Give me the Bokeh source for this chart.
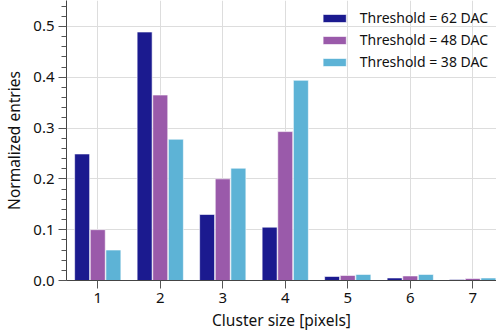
from bokeh.plotting import figure
from bokeh.models import ColumnDataSource, Range1d, FixedTicker, Legend, LegendItem, CustomJSTickFormatter
from bokeh.transform import dodge
from bokeh.embed import file_html
from bokeh.resources import INLINE

cluster_size = [1, 2, 3, 4, 5, 6, 7]
thr62 = [0.249, 0.489, 0.130, 0.105, 0.008, 0.005, 0.002]
thr48 = [0.100, 0.365, 0.200, 0.293, 0.010, 0.009, 0.004]
thr38 = [0.060, 0.278, 0.221, 0.394, 0.012, 0.012, 0.005]
labels = ["Threshold = 62 DAC", "Threshold = 48 DAC", "Threshold = 38 DAC"]
colors = ["#1b1a8f", "#9a5aaa", "#5db3d6"]

src = ColumnDataSource(dict(x=cluster_size, a=thr62, b=thr48, c=thr38))

FONT = "Noto Sans"
p = figure(width=496, height=335, output_backend="svg", toolbar_location=None,
           x_range=Range1d(0.5, 7.38), y_range=Range1d(0, 0.551),
           min_border_left=65, min_border_bottom=55, min_border_top=0, min_border_right=0)
p.outline_line_color = None

renderers = []
for col, off, color in zip(["a", "b", "c"], [-0.25, 0.0, 0.25], colors):
    r = p.vbar(x=dodge("x", off, range=p.x_range), top=col, width=0.24, source=src,
               fill_color=color, fill_alpha=1.0, line_color="white", line_width=1, line_alpha=0.6)
    renderers.append(r)

legend = Legend(items=[LegendItem(label=l, renderers=[r]) for l, r in zip(labels, renderers)],
                location="top_right", border_line_alpha=0, background_fill_alpha=0,
                label_text_font=FONT, label_text_font_size="14px", label_text_color="#111111",
                glyph_width=29, glyph_height=10, label_standoff=11, spacing=3,
                padding=3, margin=5, label_height=14)
p.add_layout(legend)

p.xaxis.ticker = FixedTicker(ticks=cluster_size)
p.yaxis.ticker = FixedTicker(ticks=[0, 0.1, 0.2, 0.3, 0.4, 0.5],
                             minor_ticks=[i * 0.02 for i in range(28)])
p.yaxis.formatter = CustomJSTickFormatter(code="return tick.toFixed(1);")

for ax in [p.xaxis[0], p.yaxis[0]]:
    ax.axis_line_color = "#444444"
    ax.major_tick_line_color = "#555555"
    ax.minor_tick_line_color = "#555555"
    ax.major_tick_out = 8
    ax.major_tick_in = 0
    ax.minor_tick_out = 5
    ax.minor_tick_in = 0
    ax.major_label_text_font = FONT
    ax.major_label_text_font_size = "15px"
    ax.major_label_text_color = "#111111"
    ax.major_label_standoff = 4
    ax.axis_label_text_font = FONT
    ax.axis_label_text_font_size = "15.5px"
    ax.axis_label_text_font_style = "normal"
    ax.axis_label_text_color = "#111111"
p.xaxis.minor_tick_line_color = None
p.xaxis.axis_label = "Cluster size [pixels]"
p.yaxis.axis_label = "Normalized entries"
p.xaxis.axis_label_standoff = 3
p.yaxis.axis_label_standoff = 5

p.xgrid.grid_line_color = "#dddddd"
p.ygrid.grid_line_color = "#dddddd"

open("out.html", "w").write(file_html(p, INLINE))
